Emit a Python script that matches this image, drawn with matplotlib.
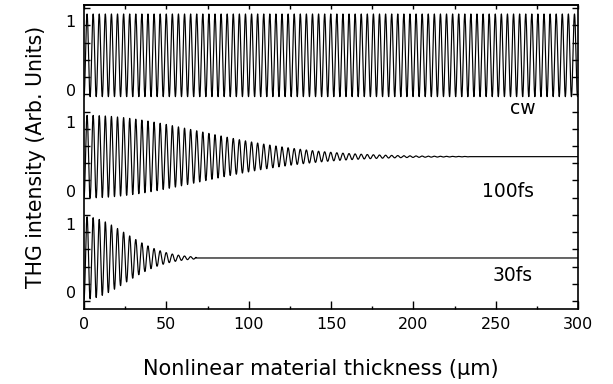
import numpy as np
import matplotlib.pyplot as plt

# traces, top to bottom
labels = ['cw', '100fs', '30fs']
fringe_period = 3.7                    # um, Maker fringe spacing
decay_length = [np.inf, 100.0, 35.0]   # um, 1/e length of the fringe envelope
trace_end = [300.0, 234.0, 68.0]       # um, fringes vanish after this thickness
mean_level = 0.5
swing = 0.6
offsets = [2.94, 1.47, 0.0]            # vertical stacking of the three traces

x = np.linspace(0, 300, 30001)

fig = plt.figure(figsize=(6.13, 3.84), dpi=100)
ax = fig.add_axes([84/613, 1-309/384, 494/613, 304/384])

for L, end, off in zip(decay_length, trace_end, offsets):
    env = np.exp(-(x/L)**2)
    env[x > end] = 0
    y = mean_level - swing*env*np.cos(2*np.pi*x/fringe_period) + off
    ax.plot(x, y, color='black', lw=0.85)

ax.set_xlim(0, 300)
ax.set_ylim(-0.24, 4.17)

ax.set_xticks(np.arange(0, 301, 50))
ax.set_xticks(np.arange(0, 301, 25), minor=True)
ax.tick_params(axis='x', which='major', direction='in', length=5.8, width=1,
               labelsize=11.5, pad=6)
ax.tick_params(axis='x', which='minor', direction='in', length=2.4, width=1)

top = ax.secondary_xaxis('top')
top.set_xticks(np.arange(0, 301, 25))
top.tick_params(direction='in', length=3, width=1, labeltop=False)

yt = []
for off in offsets:
    yt += [off, off + 1]
ax.set_yticks(yt)
ax.set_yticklabels(['0', '1'] * 3)
ax.set_yticks(np.arange(-0.125, 4.17, 0.25), minor=True)
ax.tick_params(axis='y', which='major', length=0, labelsize=11.5, pad=6)
ax.tick_params(axis='y', which='minor', direction='in', length=4.5, width=1,
               left=True, right=True)

pos = [(266.6, 2.67), (257.5, 1.47), (260.5, 0.24)]
for lab, (tx, ty) in zip(labels, pos):
    ax.text(tx, ty, lab, fontsize=13.5, ha='center', va='center')

for s in ax.spines.values():
    s.set_linewidth(1.2)
top.spines['top'].set_linewidth(1.2)

ax.set_xlabel('Nonlinear material thickness (\u03bcm)', fontsize=15, labelpad=22)
ax.xaxis.set_label_coords(0.48, -0.165)
ax.set_ylabel('THG intensity (Arb. Units)', fontsize=14.8, labelpad=14)

fig.savefig('out.png', dpi=100)
